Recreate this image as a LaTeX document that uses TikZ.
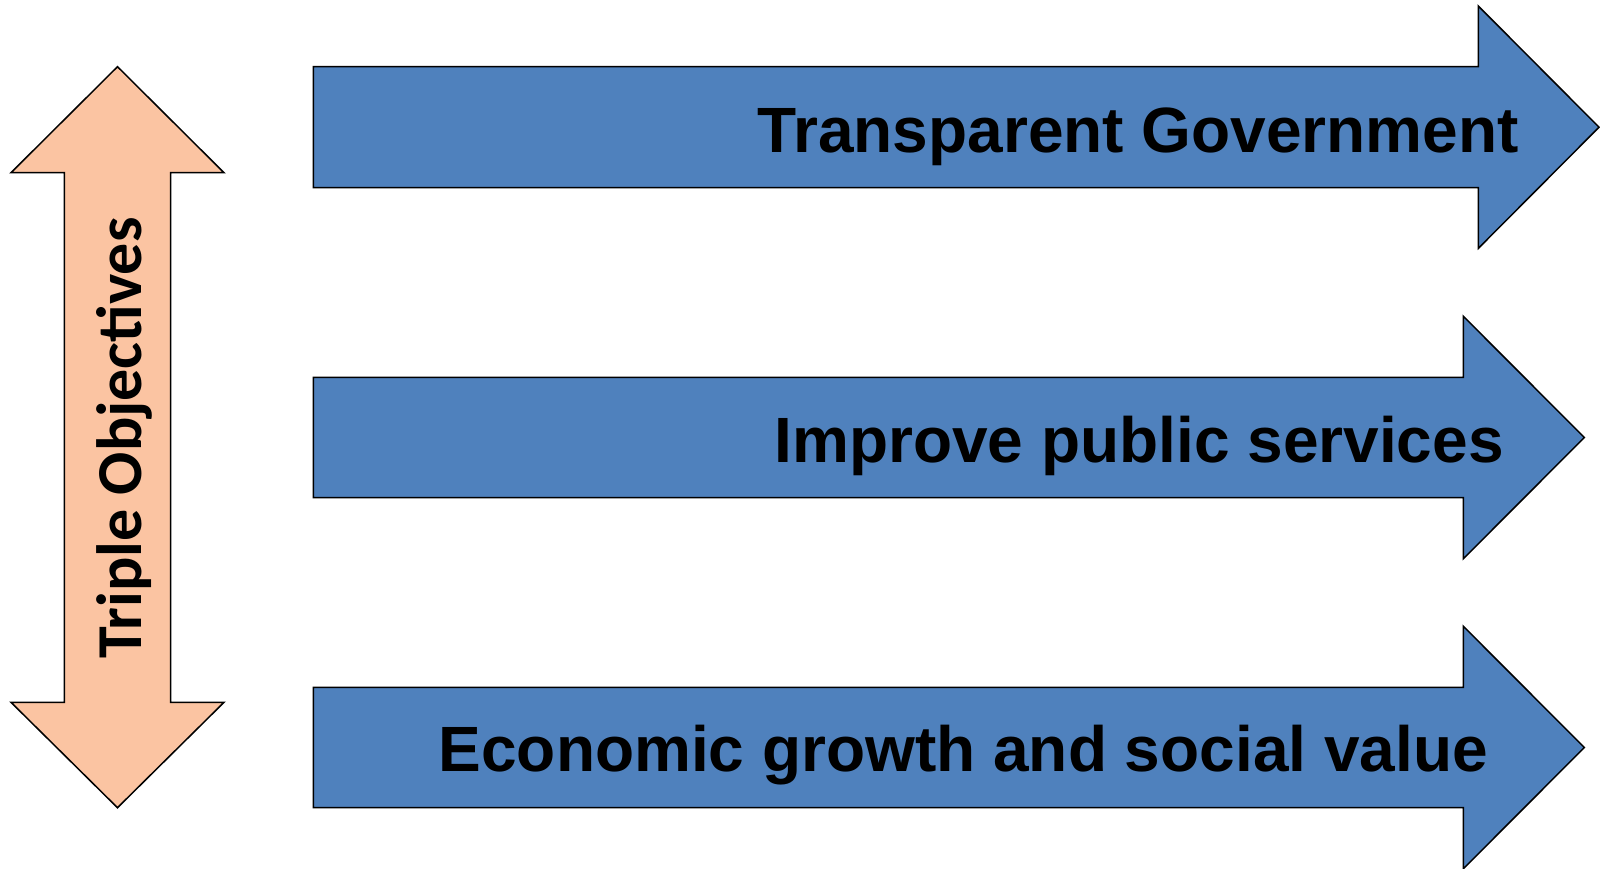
\documentclass[tikz,border=0pt]{standalone}
\usepackage{fontspec}
\setmainfont{Liberation Sans}
\newfontfamily\calibrifont{Carlito}
\definecolor{arrowblue}{HTML}{4F81BD}
\definecolor{peach}{HTML}{FBC4A2}
\begin{document}
\begin{tikzpicture}[x=1pt,y=-1pt,
  blueshape/.style={draw=black,fill=arrowblue,line width=1.5pt,line join=miter},
  peachshape/.style={draw=black,fill=peach,line width=1.5pt,line join=miter},
  bluelabel/.style={anchor=base east,inner sep=0pt,font=\fontsize{64}{64}\selectfont\bfseries,text=black},
  sidelabel/.style={anchor=base west,inner sep=0pt,rotate=90,font=\calibrifont\fontsize{64}{64}\selectfont\bfseries,text=black}]
\useasboundingbox (0,0) rectangle (1600,868);
% double-headed vertical arrow
\draw[peachshape] (117.5,66.7) -- (224,172.7) -- (170.7,172.7) -- (170.7,702.3) -- (224,702.3)
  -- (117.5,807.7) -- (11,702.3) -- (64.3,702.3) -- (64.3,172.7) -- (11,172.7) -- cycle;
% right arrows
\draw[blueshape] (313.3,66.7) -- (1478.3,66.7) -- (1478.3,6) -- (1599,127.2) -- (1478.3,248.4)
  -- (1478.3,187.7) -- (313.3,187.7) -- cycle;
\draw[blueshape] (313.3,377.3) -- (1463.3,377.3) -- (1463.3,316.2) -- (1584.3,437.5) -- (1463.3,558.8)
  -- (1463.3,497.7) -- (313.3,497.7) -- cycle;
\draw[blueshape] (313.3,687.3) -- (1463.3,687.3) -- (1463.3,626.2) -- (1584.3,747.5) -- (1463.3,868.8)
  -- (1463.3,807.7) -- (313.3,807.7) -- cycle;
% labels
\node[bluelabel] (t1) at (1519,152.7) {Transparent Government};
\node[bluelabel] (t2) at (1504,462.7) {Improve public services};
\node[bluelabel] (t3) at (1488,771.7) {Economic growth and social value};
\node[sidelabel] (side) at (141,659) {Triple Objectives};
\end{tikzpicture}
\end{document}
